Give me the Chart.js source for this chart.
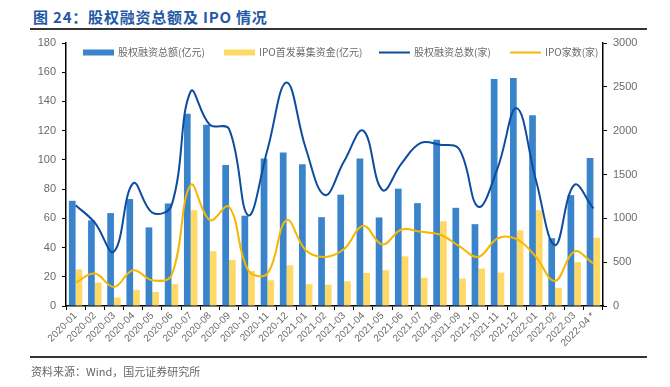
<!DOCTYPE html>
<html>
<head>
<meta charset="utf-8">
<script src="https://cdn.jsdelivr.net/npm/chart.js@4.4.0/dist/chart.umd.min.js"></script>
<style>
  body { margin: 0; background: #fff; }
  #wrap { position: relative; width: 670px; height: 387px; overflow: hidden; }
  #title { position: absolute; left: 33px; top: 6px; font: bold 15px "Noto Sans CJK SC", sans-serif; color: #2258a5; letter-spacing: 0.8px; }
  .rule { position: absolute; left: 30px; width: 617px; height: 2px; background: #333; }
  #src { position: absolute; left: 31px; top: 363px; font: 11px "Noto Sans CJK SC", sans-serif; color: #666; }
  canvas { position: absolute; left: 0; top: 0; }
</style>
</head>
<body>
<div id="wrap">
  <div id="title">图 24：股权融资总额及 IPO 情况</div>
  <div class="rule" style="top:28px"></div>
  <canvas id="grafica" width="670" height="387"></canvas>
  <div class="rule" style="top:356px"></div>
  <div id="src">资料来源：Wind，国元证券研究所</div>
</div>
<script>
const meses = ["2020-01","2020-02","2020-03","2020-04","2020-05","2020-06","2020-07","2020-08","2020-09","2020-10","2020-11","2020-12",
  "2021-01","2021-02","2021-03","2021-04","2021-05","2021-06","2021-07","2021-08","2021-09","2021-10","2021-11","2021-12",
  "2022-01","2022-02","2022-03","2022-04 *"];
// 亿元 (left axis)
const montoTotal = [72, 58.6, 63.6, 73.2, 53.8, 70.2, 131.5, 124, 96.5, 61.8, 101, 105,
  97, 60.8, 76.2, 101, 60.6, 80.3, 70.4, 113.7, 67.2, 56, 155.3, 156, 130.6, 46.4, 75.9, 101.3];
const montoIPO = [25, 16, 5.9, 11, 9.6, 15, 65.6, 37.5, 31.6, 24, 17.6, 27.9,
  14.9, 14.6, 16.9, 22.6, 24.5, 34, 19.4, 58, 18.8, 25.6, 22.9, 51.7, 65.6, 12.4, 30, 46.7];
// 家 (right axis)
const numTotal = [1150, 950, 620, 1400, 1064, 1145, 2447, 2067, 2020, 1035, 1780, 2550,
  1800, 1266, 1650, 2000, 1323, 1628, 1860, 1840, 1790, 1132, 1571, 2257, 1437, 694, 1380, 1113];
const numIPO = [267, 370, 217, 408, 293, 350, 1380, 980, 1132, 408, 370, 980,
  637, 560, 650, 915, 701, 873, 846, 816, 683, 560, 770, 762, 560, 286, 621, 484];
const ticksIzq = [0, 20, 40, 60, 80, 100, 120, 140, 160, 180];
const ticksDer = [0, 500, 1000, 1500, 2000, 2500, 3000];

const gris = "#6b6b6b";
const fuenteNum = { family: "'Liberation Sans', Arial, sans-serif", size: 11 };

// leyenda dibujada dentro del área
const leyenda = {
  id: "leyenda",
  afterDraw(chart) {
    const ctx = chart.ctx;
    const y = 52.5;
    const items = [
      { tipo: "bar", x: 83, color: "#3a84cc", texto: "股权融资总额(亿元)" },
      { tipo: "bar", x: 224, color: "#ffd966", texto: "IPO首发募集资金(亿元)" },
      { tipo: "line", x: 379, color: "#0d4c9e", texto: "股权融资总数(家)" },
      { tipo: "line", x: 510, color: "#f5b700", texto: "IPO家数(家)" }
    ];
    ctx.save();
    ctx.font = "10px 'Noto Sans CJK SC', sans-serif";
    ctx.textBaseline = "middle";
    items.forEach(it => {
      if (it.tipo === "bar") {
        ctx.fillStyle = it.color;
        ctx.fillRect(it.x, y - 3, 31, 6);
      } else {
        ctx.strokeStyle = it.color;
        ctx.lineWidth = 2;
        ctx.beginPath();
        ctx.moveTo(it.x, y);
        ctx.lineTo(it.x + 31, y);
        ctx.stroke();
      }
      ctx.fillStyle = gris;
      ctx.fillText(it.texto, it.x + 35, y);
    });
    ctx.restore();
  }
};

new Chart(document.getElementById("grafica"), {
  type: "bar",
  data: {
    labels: meses,
    datasets: [
      { type: "line", label: "股权融资总数(家)", data: numTotal, yAxisID: "y1", borderColor: "#0d4c9e",
        borderWidth: 2, pointRadius: 0, tension: 0.4, fill: false, order: 0 },
      { type: "line", label: "IPO家数(家)", data: numIPO, yAxisID: "y1", borderColor: "#f5b700",
        borderWidth: 2, pointRadius: 0, tension: 0.4, fill: false, order: 0 },
      { label: "股权融资总额(亿元)", data: montoTotal, yAxisID: "y", backgroundColor: "#3a84cc",
        categoryPercentage: 0.7, barPercentage: 1.0, order: 1 },
      { label: "IPO首发募集资金(亿元)", data: montoIPO, yAxisID: "y", backgroundColor: "#ffd966",
        categoryPercentage: 0.7, barPercentage: 1.0, order: 1 }
    ]
  },
  options: {
    responsive: false,
    animation: false,
    layout: { padding: { top: 43, left: 0, right: 0, bottom: 0 } },
    plugins: { legend: { display: false }, tooltip: { enabled: false } },
    scales: {
      x: {
        offset: true,
        grid: { display: true, drawOnChartArea: false, color: "#000", tickLength: 4, offset: true },
        border: { color: "#000", width: 1.5 },
        ticks: { color: gris, font: { family: "'Liberation Sans', Arial, sans-serif", size: 10 },
          minRotation: 45, maxRotation: 45, autoSkip: false, padding: 0 },
        afterFit(s) { s.height = 81; }
      },
      y: {
        position: "left",
        min: 0, max: 180,
        afterBuildTicks(s) { s.ticks = ticksIzq.map(v => ({ value: v })); },
        grid: { display: true, drawOnChartArea: false, color: "#000", tickLength: 4 },
        border: { color: "#000", width: 1.5 },
        ticks: { color: gris, font: fuenteNum, padding: 6, callback: v => String(v) },
        afterFit(s) { s.width = 66; }
      },
      y1: {
        position: "right",
        min: 0, max: 3000,
        afterBuildTicks(s) { s.ticks = ticksDer.map(v => ({ value: v })); },
        grid: { display: true, drawOnChartArea: false, color: "#000", tickLength: 4 },
        border: { color: "#000", width: 1.5 },
        ticks: { color: gris, font: fuenteNum, padding: 6, callback: v => String(v) },
        afterFit(s) { s.width = 67; }
      }
    }
  },
  plugins: [leyenda]
});
</script>
</body>
</html>
